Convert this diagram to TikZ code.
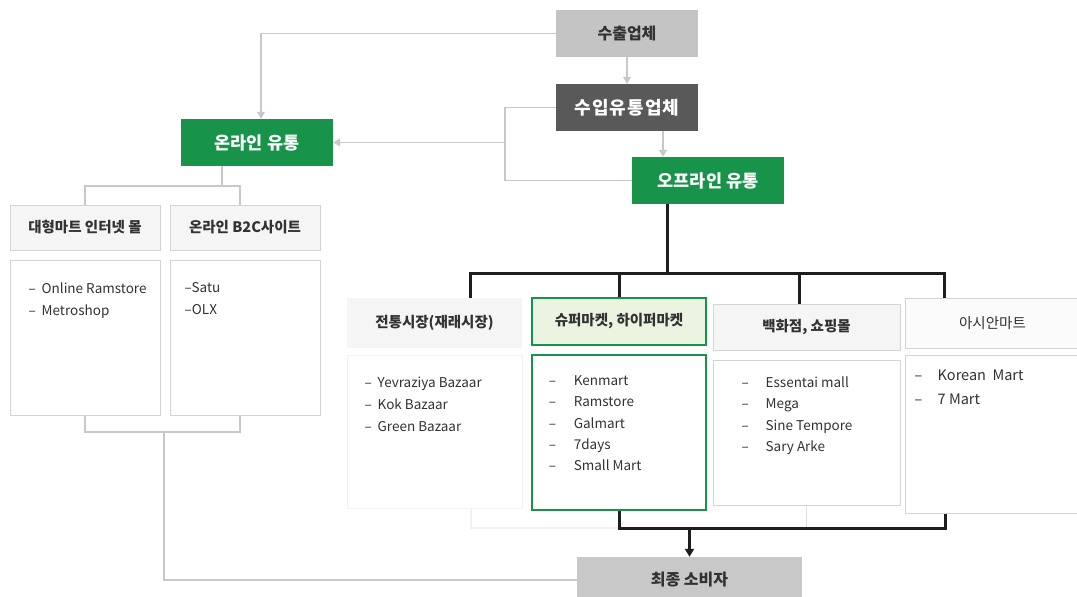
\documentclass[tikz,border=0pt]{standalone}
\usepackage{fontspec}
\setmainfont{Noto Sans CJK KR}
\usepackage{tikz}
\usetikzlibrary{arrows.meta,positioning}

\definecolor{flowgreen}{RGB}{24,148,74}
\definecolor{palegreen}{RGB}{234,244,224}
\definecolor{exportgray}{RGB}{196,196,196}
\definecolor{importgray}{RGB}{89,89,89}
\definecolor{finalgray}{RGB}{200,200,200}
\definecolor{headgray}{RGB}{245,245,245}
\definecolor{rulegray}{RGB}{212,212,212}
\definecolor{linkgray}{RGB}{200,200,200}
\definecolor{textgray}{RGB}{50,50,50}
\definecolor{barblack}{RGB}{30,30,30}

\newcommand\itemdash[1]{\makebox[#1][l]{–}}

\begin{document}
\begin{tikzpicture}[x=1pt,y=-1pt,
  flowbox/.style={inner sep=0pt,minimum width=142pt,minimum height=47pt,font=\fontsize{16}{16}\selectfont\bfseries},
  headbox/.style={draw=rulegray,fill=headgray,line width=1pt,inner sep=0pt,minimum height=45pt,text=textgray,font=\fontsize{14.5}{14.5}\selectfont\bfseries},
  listbox/.style={draw=rulegray,fill=white,line width=1pt,inner sep=0pt},
  itemlist/.style={align=left,inner sep=0pt,text=textgray,font=\fontsize{13.5}{22}\selectfont},
  gline/.style={draw=linkgray,line width=1.2pt},
  garrow/.style={gline,-{Triangle[width=8pt,length=7pt]}},
  bline/.style={draw=barblack,line width=3pt},
  fline/.style={draw=black!6,line width=1.2pt}]
\useasboundingbox (0,0) rectangle (1077,597);
\clip (0,0) rectangle (1077,597);

\node[flowbox,fill=exportgray,text=textgray] (exp) at (627,33.5) {수출업체};
\node[flowbox,fill=importgray,text=white,font=\fontsize{18}{18}\selectfont\bfseries\addfontfeature{LetterSpace=6}] (imp) at (627,107.5) {수입유통업체};
\node[flowbox,fill=flowgreen,text=white,minimum width=152pt,font=\fontsize{17.5}{17.5}\selectfont\bfseries] (off) at (708,180.5) {오프라인 유통};
\node[flowbox,fill=flowgreen,text=white,minimum width=152pt,font=\fontsize{17.5}{17.5}\selectfont\bfseries] (on) at (257,142.5) {온라인 유통};

\node[headbox,minimum width=150pt] (h1) at (85,227.5) {대형마트 인터넷 몰};
\node[headbox,minimum width=150pt] (h2) at (245,227.5) {온라인 B2C사이트};
\node[listbox,minimum width=150pt,minimum height=155pt] (l1) at (85,337.5) {};
\node[listbox,minimum width=150pt,minimum height=155pt] (l2) at (245,337.5) {};
\node[itemlist,below right=23pt and 19pt of l1.north west] (l1t) {\itemdash{13pt}Online Ramstore\\\itemdash{13pt}Metroshop};
\node[itemlist,below right=23pt and 15pt of l2.north west] (l2t) {–Satu\\–OLX};

\node[headbox,draw=none,minimum width=175pt,minimum height=50pt] (t1) at (434.5,323) {전통시장(재래시장)};
\node[headbox,draw=flowgreen,fill=palegreen,line width=2.8pt,minimum width=174pt,minimum height=47pt] (t2) at (619,321.5) {슈퍼마켓, 하이퍼마켓};
\node[headbox,minimum width=187pt,minimum height=46pt] (t3) at (806.5,327) {백화점, 쇼핑몰};
\node[headbox,fill=white!60!headgray,minimum width=175pt,minimum height=50pt,font=\fontsize{14.5}{14.5}\selectfont] (t4) at (992.5,323) {아시안마트};

\node[listbox,draw=black!5,minimum width=175pt,minimum height=153pt] (m1) at (434.5,431.5) {};
\node[listbox,draw=flowgreen,line width=2.8pt,minimum width=174pt,minimum height=155pt] (m2) at (619,432.5) {};
\node[listbox,minimum width=187pt,minimum height=145pt] (m3) at (806.5,432.5) {};
\node[listbox,minimum width=175pt,minimum height=158pt] (m4) at (992.5,434) {};
\node[itemlist,below right=22pt and 18pt of m1.north west] (m1t) {\itemdash{13pt}Yevraziya Bazaar\\\itemdash{13pt}Kok Bazaar\\\itemdash{13pt}Green Bazaar};
\node[itemlist,font=\fontsize{13.5}{21.2}\selectfont,below right=22pt and 18pt of m2.north west] (m2t) {\itemdash{25pt}Kenmart\\\itemdash{25pt}Ramstore\\\itemdash{25pt}Galmart\\\itemdash{25pt}7days\\\itemdash{25pt}Small Mart};
\node[itemlist,font=\fontsize{13.5}{21.3}\selectfont,below right=17pt and 29pt of m3.north west] (m3t) {\itemdash{24pt}Essentai mall\\\itemdash{24pt}Mega\\\itemdash{24pt}Sine Tempore\\\itemdash{24pt}Sary Arke};
\node[itemlist,font=\fontsize{14.5}{24}\selectfont,below right=15pt and 10pt of m4.north west] (m4t) {\itemdash{23pt}Korean~ Mart\\\itemdash{23pt}7 Mart};

\node[flowbox,fill=finalgray,text=textgray,minimum width=225pt,minimum height=46pt] (final) at (689.5,580) {최종 소비자};

\coordinate (jn) at (505,142.5);
\coordinate (ob) at (222,186);
\coordinate (lb) at (164,432);
\coordinate (fb) at (667,273);
\coordinate (cb) at (689.5,528);

\draw[garrow] (exp.south) -- (imp.north);
\draw[garrow] ([xshift=36pt]imp.south) -- ([xshift=36pt]imp.south |- off.north);
\draw[garrow] (exp.west) -| ([xshift=4pt]on.north);
\draw[gline] (imp.west) -| (jn) |- (off.west);
\draw[garrow] (jn) -- (on.east);

\draw[gline] ([xshift=-35pt]on.south) -- (ob);
\draw[gline] (h1.north) |- (ob) -| ([xshift=-5pt]h2.north);
\draw[gline] (l1.south) |- (lb) -| ([xshift=-5pt]l2.south);
\draw[gline] (lb) |- (final.west);

\draw[fline] ([xshift=36.5pt]m1.south) |- (m2.south |- cb);
\draw[fline,draw=linkgray!60] (m3.south) -- (m3.south |- cb);

\draw[bline] ([xshift=-41pt]off.south) -- (fb);
\draw[bline] ([xshift=35.5pt]t1.north) |- (fb) -| ([xshift=-48.5pt]t4.north);
\draw[bline] (t2.north) -- (t2.north |- fb);
\draw[bline] ([xshift=-7.5pt]t3.north) -- ([xshift=-7.5pt]t3.north |- fb);
\draw[bline] (m2.south) |- (cb) -| ([xshift=-47.5pt]m4.south);
\draw[bline,line width=2.5pt,-{Triangle[width=9pt,length=8pt]}] (cb) -- (final.north);

\end{tikzpicture}
\end{document}
